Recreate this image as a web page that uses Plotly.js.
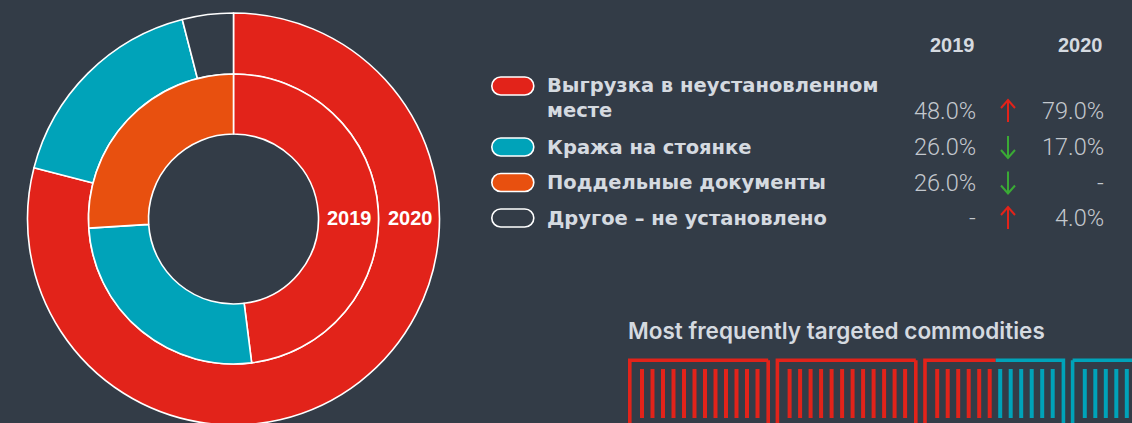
<!DOCTYPE html>
<html><head><meta charset="utf-8">
<script src="https://cdn.plot.ly/plotly-3.0.1.min.js"></script>
<style>
html,body{margin:0;padding:0;background:#333c47;overflow:hidden;width:1132px;height:423px}
#chart{width:1132px;height:440px}
</style>
</head><body><div id="chart"></div><script>
// ---- data ----
const categories = ["Выгрузка в неустановленном месте", "Кража на стоянке", "Поддельные документы", "Другое – не установлено"];
const categoryLabelLines = [["Выгрузка в неустановленном", "месте"], ["Кража на стоянке"], ["Поддельные документы"], ["Другое – не установлено"]];
const years = ["2019", "2020"];
const values2019 = [48, 26, 26, null];
const values2020 = [79, 17, null, 4];
const sliceColors = ["#e2231a", "#00a3b9", "#e8500f", "#333c47"];
const commodityTitle = "Most frequently targeted commodities";
const containerRedBars = [12, 12, 6, 0];
const containerTealBars = [0, 0, 6, 12];

// ---- layout helpers ----
const W = 1132, H = 440;
const BG = "#333c47";
const px = x => x / W;
const py = y => 1 - y / H;
const P = (x, y) => px(x).toFixed(5) + "," + py(y).toFixed(5);

function pieFor(vals, cx, cy, R, hole) {
  const idx = vals.map((v, i) => i).filter(i => vals[i] != null);
  return {
    type: "pie",
    labels: idx.map(i => categories[i]),
    values: idx.map(i => vals[i]),
    marker: { colors: idx.map(i => sliceColors[i]), line: { color: "#ffffff", width: 1.6 } },
    sort: false, direction: "clockwise", rotation: 0,
    hole: hole, textinfo: "none", hoverinfo: "skip", showlegend: false,
    domain: { x: [px(cx - R), px(cx + R)], y: [py(cy + R), py(cy - R)] }
  };
}
const CX = 233.5, CY = 219;
const traces = [
  pieFor(values2020, CX, CY, 206, 145 / 206),
  pieFor(values2019, CX, CY, 145, 85 / 145)
];

const shapes = [], annotations = [];
const txtCol = "#d5dae0", valCol = "#c3c8ce";
const boldFont = (s, c) => ({ family: "Liberation Sans, Arial, sans-serif", size: s, color: c, weight: 700 });
const labelFont = { family: "DejaVu Sans, sans-serif", size: 19.5, color: txtCol, weight: 700 };
const lightFont = { family: "Roboto, sans-serif", size: 23.5, color: valCol, weight: 300 };

// ring labels
annotations.push({ xref: "paper", yref: "paper", x: px(349), y: py(218), text: years[0], showarrow: false, font: boldFont(20, "#ffffff"), xanchor: "center", yanchor: "middle" });
annotations.push({ xref: "paper", yref: "paper", x: px(410), y: py(218), text: years[1], showarrow: false, font: boldFont(20, "#ffffff"), xanchor: "center", yanchor: "middle" });

// table headers
const col2019R = 977.5, col2020R = 1105.5, arrowX = 1008;
annotations.push({ xref: "paper", yref: "paper", x: px(col2019R - 0.5), y: py(45), text: years[0], showarrow: false, font: boldFont(20, txtCol), xanchor: "right", yanchor: "middle" });
annotations.push({ xref: "paper", yref: "paper", x: px(col2020R - 0.5), y: py(45), text: years[1], showarrow: false, font: boldFont(20, txtCol), xanchor: "right", yanchor: "middle" });

const rowY = [111, 147, 182.5, 218];
const pillY = [86, 147, 182.5, 218];
function pill(cx, cy, w, h, fill) {
  const r = h / 2, x0 = cx - w / 2, x1 = cx + w / 2, y0 = cy - r, y1 = cy + r, k = 0.5523 * r;
  const d = "M" + P(x0 + r, y0) + " L" + P(x1 - r, y0) +
    " C" + P(x1 - r + k, y0) + " " + P(x1, cy - k) + " " + P(x1, cy) +
    " C" + P(x1, cy + k) + " " + P(x1 - r + k, y1) + " " + P(x1 - r, y1) +
    " L" + P(x0 + r, y1) +
    " C" + P(x0 + r - k, y1) + " " + P(x0, cy + k) + " " + P(x0, cy) +
    " C" + P(x0, cy - k) + " " + P(x0 + r - k, y0) + " " + P(x0 + r, y0) + " Z";
  return { type: "path", xref: "paper", yref: "paper", path: d, fillcolor: fill, line: { color: "#ffffff", width: 1.6 } };
}
const fmt = v => v == null ? "-" : v.toFixed(1) + "%";
categories.forEach((c, i) => {
  shapes.push(pill(512.8, pillY[i], 42, 18, sliceColors[i]));
  categoryLabelLines[i].forEach((line, k) => {
    annotations.push({ xref: "paper", yref: "paper", x: px(545), y: py(pillY[i] + k * 24.5), text: line, align: "left", showarrow: false, font: labelFont, xanchor: "left", yanchor: "middle" });
  });
  annotations.push({ xref: "paper", yref: "paper", x: px(col2019R), y: py(rowY[i]), text: fmt(values2019[i]), showarrow: false, font: lightFont, xanchor: "right", yanchor: "middle" });
  annotations.push({ xref: "paper", yref: "paper", x: px(col2020R), y: py(rowY[i]), text: fmt(values2020[i]), showarrow: false, font: lightFont, xanchor: "right", yanchor: "middle" });
  const up = (values2020[i] || 0) > (values2019[i] || 0);
  const col = up ? "#e2231a" : "#3aaa35";
  const top = rowY[i] - 11, bot = rowY[i] + 11;
  shapes.push({ type: "path", xref: "paper", yref: "paper", path: "M" + P(arrowX, top) + " L" + P(arrowX, bot), line: { color: col, width: 2 } });
  const tip = up ? top : bot, dir = up ? 1 : -1;
  shapes.push({ type: "path", xref: "paper", yref: "paper", path: "M" + P(arrowX - 7, tip + dir * 8) + " L" + P(arrowX, tip) + " L" + P(arrowX + 7, tip + dir * 8), line: { color: col, width: 2 } });
});

// commodities section
annotations.push({ xref: "paper", yref: "paper", x: px(626), y: py(330), text: commodityTitle, showarrow: false, font: { family: "Inter, sans-serif", size: 22.5, color: txtCol, weight: 600 }, xanchor: "left", yanchor: "middle" });
const boxLeft0 = 628, boxPitch = 147.6, boxW = 142, barPitch = 10.5, barOff = 12, lw = 3.6;
const redC = "#e2231a", tealC = "#00a3b9";
containerRedBars.forEach((nr, b) => {
  const nt = containerTealBars[b];
  const L = boxLeft0 + b * boxPitch + lw / 2, R = boxLeft0 + b * boxPitch + boxW - lw / 2, T = 358.5 + lw / 2;
  const split = nr === 0 ? L : (nt === 0 ? R : boxLeft0 + b * boxPitch + barOff + nr * barPitch - 2.5);
  if (nr > 0) shapes.push({ type: "path", xref: "paper", yref: "paper", path: "M" + P(split, T) + " L" + P(L, T) + " L" + P(L, 460) + (nt === 0 ? " M" + P(R, T) + " L" + P(R, 460) : ""), line: { color: redC, width: lw } });
  if (nt > 0) shapes.push({ type: "path", xref: "paper", yref: "paper", path: "M" + P(split, T) + " L" + P(R, T) + " L" + P(R, 460) + (nr === 0 ? " M" + P(L, T) + " L" + P(L, 460) : ""), line: { color: tealC, width: lw } });
  for (let j = 0; j < nr + nt; j++) {
    const x = boxLeft0 + b * boxPitch + barOff + j * barPitch + 2;
    shapes.push({ type: "path", xref: "paper", yref: "paper", path: "M" + P(x, 369) + " L" + P(x, 418), line: { color: j < nr ? redC : tealC, width: 4 } });
  }
});

const layout = {
  width: W, height: H, margin: { l: 0, r: 0, t: 0, b: 0 },
  paper_bgcolor: BG, plot_bgcolor: BG, showlegend: false,
  shapes: shapes, annotations: annotations
};
Plotly.newPlot("chart", traces, layout, { displayModeBar: false, staticPlot: true });
</script></body></html>
